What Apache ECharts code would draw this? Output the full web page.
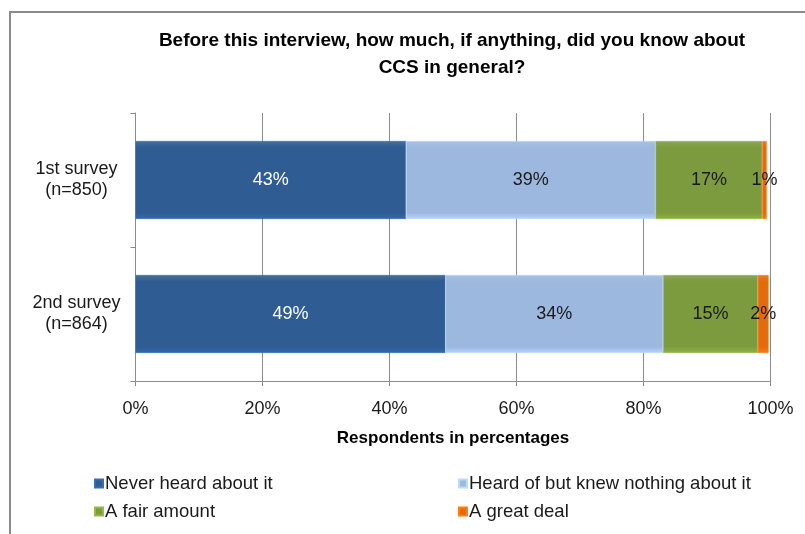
<!DOCTYPE html>
<html><head><meta charset="utf-8">
<script src="https://cdn.jsdelivr.net/npm/echarts@6/dist/echarts.min.js"></script>
<style>html,body{margin:0;padding:0;background:#fff}#c{width:805px;height:534px}</style>
</head><body><div id="c"></div>
<script>
const categories = ['1st survey\n(n=850)', '2nd survey\n(n=864)'];
const seriesNames = ['Never heard about it', 'Heard of but knew nothing about it', 'A fair amount', 'A great deal'];
const neverHeard = [42.6, 48.8];
const heardNothing = [39.3, 34.3];
const fairAmount = [16.8, 14.9];
const greatDeal = [0.7, 1.7];
const xTicks = [0, 20, 40, 60, 80, 100];

const colors = ['#2E5C93', '#9DB8DF', '#7C9B3E', '#E46B0B'];
const labelColors = ['#ffffff', '#1a1a1a', '#1a1a1a', '#1a1a1a'];
const values = [neverHeard, heardNothing, fairAmount, greatDeal];
const FONT = 'Liberation Sans';

function grad(c) {
  return new echarts.graphic.LinearGradient(0, 0, 0, 1, [
    {offset: 0, color: echarts.color.lift(c, 0.12)},
    {offset: 0.08, color: c},
    {offset: 0.92, color: c},
    {offset: 1, color: echarts.color.lift(c, -0.15)}
  ]);
}

const series = seriesNames.map((n, i) => ({
  name: n, type: 'bar', stack: 'all', barWidth: 78,
  data: values[i],
  itemStyle: {color: grad(colors[i]), borderColor: echarts.color.lift(colors[i], -0.2), borderWidth: 0.6},
  label: {show: true, position: 'inside', color: labelColors[i], fontFamily: FONT, fontSize: 18,
    formatter: p => Math.round(p.value) + '%'}
}));

const legendPos = [[94, 474], [458, 474], [94, 502], [458, 502]];
const legends = seriesNames.map((n, i) => ({
  data: [{name: n, icon: 'rect'}], left: legendPos[i][0], top: legendPos[i][1],
  itemWidth: 8, itemHeight: 8, itemGap: 4, selectedMode: false, padding: 0,
  textStyle: {fontFamily: FONT, fontSize: 18.5, color: '#1a1a1a', padding: [0, 0, 0, -3]}
}));

const chart = echarts.init(document.getElementById('c'));
chart.setOption({
  animation: false,
  color: colors,
  title: {
    text: 'Before this interview, how much, if anything, did you know about\nCCS in general?',
    left: 447, textAlign: 'center', top: 22,
    textStyle: {fontFamily: FONT, fontSize: 19, fontWeight: 'bold', color: '#000', lineHeight: 27}
  },
  graphic: [{type: 'rect', shape: {x: 10, y: 12, width: 900, height: 600},
    style: {fill: 'none', stroke: '#8a8a8a', lineWidth: 2}, silent: true}],
  legend: legends,
  grid: {left: 135.5, right: 34.5, top: 113, bottom: 153},
  xAxis: {
    type: 'value', min: 0, max: 100, interval: 20,
    name: 'Respondents in percentages', nameLocation: 'middle', nameGap: 49,
    nameTextStyle: {fontFamily: FONT, fontSize: 17, fontWeight: 'bold', color: '#000'},
    axisLine: {show: true, lineStyle: {color: '#8c8c8c'}},
    axisTick: {show: true, length: 5, lineStyle: {color: '#8c8c8c'}},
    splitLine: {show: true, lineStyle: {color: '#8c8c8c'}},
    axisLabel: {fontFamily: FONT, fontSize: 18, color: '#1a1a1a', margin: 19,
      formatter: v => xTicks.includes(v) ? v + '%' : ''}
  },
  yAxis: {
    type: 'category', data: categories, inverse: true,
    axisLine: {show: true, lineStyle: {color: '#8c8c8c'}},
    axisTick: {show: true, length: 5, lineStyle: {color: '#8c8c8c'}},
    axisLabel: {fontFamily: FONT, fontSize: 18, color: '#1a1a1a', margin: 18, lineHeight: 21, align: 'center', padding: [0, 82, 0, 0]}
  },
  series: series
});
</script></body></html>
